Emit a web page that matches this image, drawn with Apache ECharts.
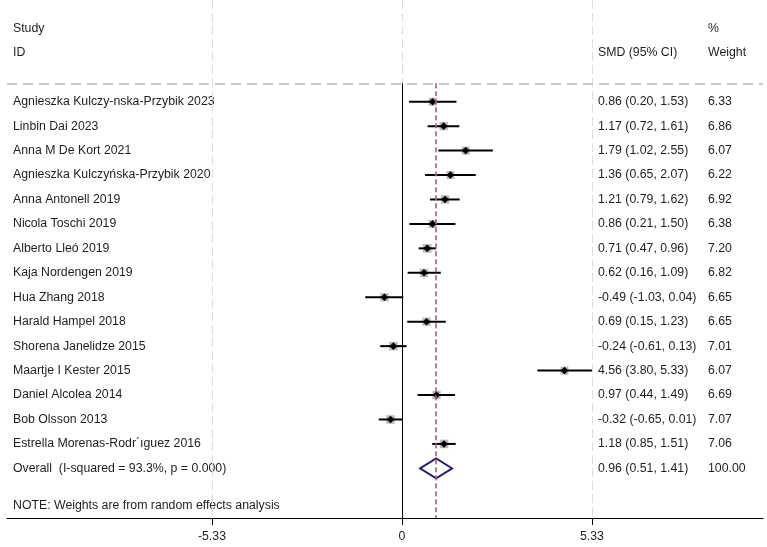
<!DOCTYPE html>
<html>
<head>
<meta charset="utf-8">
<script src="https://cdn.jsdelivr.net/npm/echarts@6/dist/echarts.min.js"></script>
<style>
  html, body { margin: 0; padding: 0; background: #fff; }
  #forest { width: 767px; height: 547px; }
</style>
</head>
<body>
<div id="forest"></div>
<script>
// study data
const studies = [
  'Agnieszka Kulczy-nska-Przybik 2023',
  'Linbin Dai 2023',
  'Anna M De Kort 2021',
  'Agnieszka Kulczyńska-Przybik 2020',
  'Anna Antonell 2019',
  'Nicola Toschi 2019',
  'Alberto Lleó 2019',
  'Kaja Nordengen 2019',
  'Hua Zhang 2018',
  'Harald Hampel 2018',
  'Shorena Janelidze 2015',
  'Maartje I Kester 2015',
  'Daniel Alcolea 2014',
  'Bob Olsson 2013',
  'Estrella Morenas-Rodr´ıguez 2016'
];
const smd     = [0.86, 1.17, 1.79, 1.36, 1.21, 0.86, 0.71, 0.62, -0.49, 0.69, -0.24, 4.56, 0.97, -0.32, 1.18];
const ciLow   = [0.20, 0.72, 1.02, 0.65, 0.79, 0.21, 0.47, 0.16, -1.03, 0.15, -0.61, 3.80, 0.44, -0.65, 0.85];
const ciHigh  = [1.53, 1.61, 2.55, 2.07, 1.62, 1.50, 0.96, 1.09, 0.04, 1.23, 0.13, 5.33, 1.49, 0.01, 1.51];
const weights = [6.33, 6.86, 6.07, 6.22, 6.92, 6.38, 7.20, 6.82, 6.65, 6.65, 7.01, 6.07, 6.69, 7.07, 7.06];

const overallEst = [0.96, 0.51, 1.41];   // SMD, lower, upper
const overallWeight = 100;
const iSquared = 93.3;
const pValue = '0.000';

const tickValues = [-5.33, 0, 5.33];

// layout
const FONT = '12.3px "Liberation Sans", Arial, sans-serif';
const TXT = '#1e1e1e';
const X_NAME = 13, X_CI = 598, X_W = 708;
const Y_MIN = -4.16, Y_MAX = 17.03, Y_HEAD = -0.75;
const X_MIN = -11.08, X_MAX = 10.13;

const fmt = v => v.toFixed(2);
const ciText = (e, l, h) => fmt(e) + ' (' + fmt(l) + ', ' + fmt(h) + ')';

const chart = echarts.init(document.getElementById('forest'));

const studyData = studies.map((n, i) => [i, smd[i], ciLow[i], ciHigh[i], weights[i]]);

function txt(x, y, s) {
  return { type: 'text', x: x, y: y,
    style: { text: s, font: FONT, fill: TXT, align: 'left', verticalAlign: 'middle' } };
}

const option = {
  animation: false,
  grid: { left: 7, right: 4, top: 0, bottom: 29 },
  xAxis: {
    type: 'value', min: X_MIN, max: X_MAX,
    splitLine: { show: false },
    axisLine: { show: true, onZero: false, lineStyle: { color: '#000', width: 1.2 } },
    axisTick: { show: true, length: 7, customValues: tickValues, lineStyle: { color: '#000' } },
    axisLabel: {
      customValues: tickValues, margin: 13,
      fontFamily: '"Liberation Sans", Arial, sans-serif', fontSize: 12.3, color: TXT,
      formatter: v => String(v)
    }
  },
  yAxis: { type: 'value', inverse: true, min: Y_MIN, max: Y_MAX, show: false },
  graphic: [
    txt(X_NAME, 29, 'Study'),
    txt(X_NAME, 53, 'ID'),
    txt(X_W, 29, '%'),
    txt(X_CI, 53, 'SMD (95% CI)'),
    txt(X_W, 53, 'Weight'),
    txt(X_NAME, 506, 'NOTE: Weights are from random effects analysis')
  ],
  series: [
    {
      type: 'line', data: [], silent: true,
      markLine: {
        silent: true, symbol: 'none', label: { show: false },
        data: [
          { xAxis: tickValues[0], lineStyle: { color: '#dedede', width: 1, type: [9, 4] } },
          { xAxis: tickValues[2], lineStyle: { color: '#dedede', width: 1, type: [9, 4] } },
          [{ coord: [0, Y_MIN], lineStyle: { color: '#dedede', width: 1, type: [9, 4] } }, { coord: [0, Y_HEAD] }],
          [{ coord: [X_MIN, Y_HEAD], lineStyle: { color: '#c8c8c8', width: 2, type: [10, 6] } }, { coord: [X_MAX, Y_HEAD] }],
          [{ coord: [0, Y_HEAD], lineStyle: { color: '#000', width: 1, type: 'solid' } }, { coord: [0, Y_MAX] }],
          [{ coord: [overallEst[0], Y_HEAD], lineStyle: { color: '#b35e6a', width: 1.6, type: [5, 3] } }, { coord: [overallEst[0], Y_MAX] }]
        ]
      }
    },
    {
      type: 'custom', clip: false, data: studyData,
      renderItem: (params, api) => {
        const i = api.value(0), est = api.value(1), lo = api.value(2), hi = api.value(3), w = api.value(4);
        const p = api.coord([est, i]);
        const pl = api.coord([lo, i]);
        const ph = api.coord([hi, i]);
        const s = 3.2 * Math.sqrt(w);
        const d = 3.8;
        return {
          type: 'group',
          children: [
            { type: 'rect', shape: { x: p[0] - s / 2, y: p[1] - s / 2, width: s, height: s }, style: { fill: '#b9b9b9' } },
            { type: 'line', shape: { x1: pl[0], y1: p[1], x2: ph[0], y2: p[1] }, style: { stroke: '#000', lineWidth: 2 } },
            { type: 'polygon', shape: { points: [[p[0] - d, p[1]], [p[0], p[1] - d], [p[0] + d, p[1]], [p[0], p[1] + d]] }, style: { fill: '#000' } },
            txt(X_NAME, p[1], studies[i]),
            txt(X_CI, p[1], ciText(est, lo, hi)),
            txt(X_W, p[1], fmt(w))
          ]
        };
      }
    },
    {
      type: 'custom', clip: false, data: [[studies.length, overallEst[0], overallEst[1], overallEst[2]]],
      renderItem: (params, api) => {
        const r = api.value(0), est = api.value(1), lo = api.value(2), hi = api.value(3);
        const p = api.coord([est, r]);
        const pl = api.coord([lo, r]);
        const ph = api.coord([hi, r]);
        return {
          type: 'group',
          children: [
            { type: 'polygon', shape: { points: [[pl[0], p[1]], [p[0], p[1] - 10], [ph[0], p[1]], [p[0], p[1] + 10]] },
              style: { fill: 'none', stroke: '#1c1c7a', lineWidth: 1.8 } },
            txt(X_NAME, p[1], 'Overall  (I-squared = ' + iSquared.toFixed(1) + '%, p = ' + pValue + ')'),
            txt(X_CI, p[1], ciText(est, lo, hi)),
            txt(X_W, p[1], overallWeight.toFixed(2))
          ]
        };
      }
    }
  ]
};

chart.setOption(option);
window.addEventListener('resize', () => chart.resize());
</script>
</body>
</html>
